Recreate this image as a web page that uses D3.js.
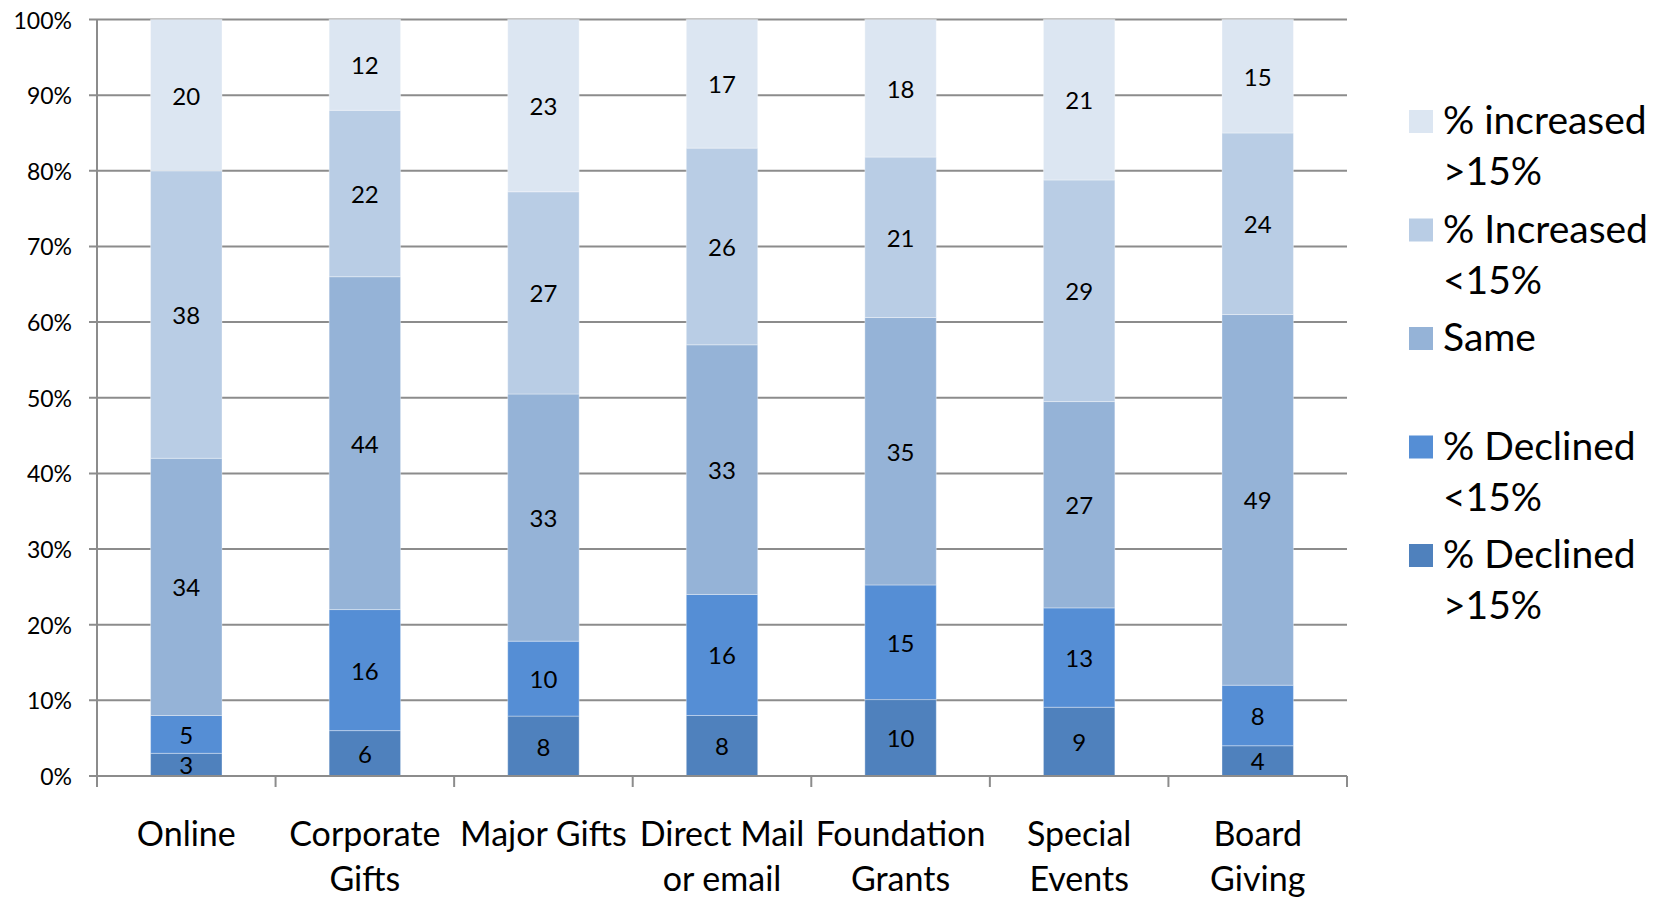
<!DOCTYPE html>
<html>
<head>
<meta charset="utf-8">
<script src="https://cdn.jsdelivr.net/npm/d3@7/dist/d3.min.js"></script>
<style>
  html, body { margin: 0; padding: 0; background: #fff; }
  svg { display: block; font-family: Lato, "Open Sans", sans-serif; }
</style>
</head>
<body>
<svg id="chart" width="1661" height="899"></svg>
<script>
// Categories (each split into label lines)
const categories = ["Online", "Corporate Gifts", "Major Gifts", "Direct Mail or email",
                    "Foundation Grants", "Special Events", "Board Giving"];
const categoryLines = [["Online"], ["Corporate", "Gifts"], ["Major Gifts"], ["Direct Mail", "or email"],
                       ["Foundation", "Grants"], ["Special", "Events"], ["Board", "Giving"]];

// Series, stacked from the bottom up
const seriesNames = ["% Declined >15%", "% Declined <15%", "Same", "% Increased <15%", "% increased >15%"];
const declinedOver15  = [3, 6, 8, 8, 10, 9, 4];
const declinedUnder15 = [5, 16, 10, 16, 15, 13, 8];
const same            = [34, 44, 33, 33, 35, 27, 49];
const increasedUnder15 = [38, 22, 27, 26, 21, 29, 24];
const increasedOver15  = [20, 12, 23, 17, 18, 21, 15];
const seriesValues = [declinedOver15, declinedUnder15, same, increasedUnder15, increasedOver15];
const seriesColors = ["#4f81bd", "#558ed5", "#95b3d7", "#b9cde5", "#dce6f2"];

// Legend order (top to bottom), with line breaks
const legendItems = [
  { series: 4, lines: ["% increased", ">15%"] },
  { series: 3, lines: ["% Increased", "<15%"] },
  { series: 2, lines: ["Same"] },
  { series: 1, lines: ["% Declined", "<15%"] },
  { series: 0, lines: ["% Declined", ">15%"] }
];

const yTicks = d3.range(0, 1.0001, 0.1);

const svg = d3.select("#chart");
const margin = { left: 97, right: 314, top: 19.5, bottom: 123 };
const W = 1661, H = 899;
const x0 = margin.left, x1 = W - margin.right;
const y0 = H - margin.bottom, y1 = margin.top;

const x = d3.scaleBand().domain(categories).range([x0, x1]).paddingInner(0.6).paddingOuter(0.3);
const xEdge = d3.scaleLinear().domain([0, categories.length]).range([x0, x1]);
const y = d3.scaleLinear().domain([0, 1]).range([y0, y1]);

const gridColor = "#8c8c8c";

// Horizontal gridlines with left tick marks
const grid = svg.append("g");
grid.selectAll("line").data(yTicks).join("line")
  .attr("x1", x0 - 8).attr("x2", x1)
  .attr("y1", d => y(d)).attr("y2", d => y(d))
  .attr("stroke", gridColor).attr("stroke-width", 2);

// Y tick labels
svg.append("g").selectAll("text").data(yTicks).join("text")
  .attr("x", 72).attr("y", d => y(d))
  .attr("text-anchor", "end").attr("dominant-baseline", "central")
  .attr("font-size", 23).attr("fill", "#000")
  .text(d => d3.format(".0%")(d));

// Build normalized stacks (percent stacked)
const table = categories.map((c, i) => {
  const row = { category: c };
  const total = d3.sum(seriesValues, s => s[i]);
  seriesNames.forEach((n, k) => { row[n] = seriesValues[k][i] / total; row["raw" + k] = seriesValues[k][i]; });
  return row;
});
const stacked = d3.stack().keys(seriesNames)(table);

const bars = svg.append("g");
stacked.forEach((layer, k) => {
  const g = bars.append("g");
  g.selectAll("rect").data(layer).join("rect")
    .attr("x", d => x(d.data.category))
    .attr("width", x.bandwidth())
    .attr("y", d => y(d[1]))
    .attr("height", d => y(d[0]) - y(d[1]))
    .attr("fill", seriesColors[k])
    .attr("stroke", "rgba(255,255,255,0.35)").attr("stroke-width", 1);
});

// Value labels centred in each segment
stacked.forEach((layer, k) => {
  bars.append("g").selectAll("text").data(layer).join("text")
    .attr("x", d => x(d.data.category) + x.bandwidth() / 2)
    .attr("y", d => (y(d[0]) + y(d[1])) / 2)
    .attr("text-anchor", "middle").attr("dominant-baseline", "central")
    .attr("font-size", 24).attr("fill", "#000")
    .text(d => d.data["raw" + k]);
});

// Axes lines
svg.append("line").attr("x1", x0).attr("x2", x0).attr("y1", y1).attr("y2", y0 + 11)
  .attr("stroke", gridColor).attr("stroke-width", 2);
svg.append("line").attr("x1", x0 - 8).attr("x2", x1).attr("y1", y0).attr("y2", y0)
  .attr("stroke", gridColor).attr("stroke-width", 2);
svg.append("g").selectAll("line").data(d3.range(1, categories.length + 1)).join("line")
  .attr("x1", d => xEdge(d)).attr("x2", d => xEdge(d))
  .attr("y1", y0).attr("y2", y0 + 11)
  .attr("stroke", gridColor).attr("stroke-width", 2);

// Category labels
const cat = svg.append("g").selectAll("text").data(categories).join("text")
  .attr("text-anchor", "middle").attr("font-size", 34).attr("fill", "#000");
cat.each(function(c, i) {
  const t = d3.select(this);
  categoryLines[i].forEach((line, j) => {
    t.append("tspan").attr("x", x(c) + x.bandwidth() / 2).attr("y", 846 + j * 45).text(line);
  });
});

// Legend
const legend = svg.append("g");
legendItems.forEach((item, i) => {
  const top = 110 + i * 108.5;
  legend.append("rect").attr("x", 1409).attr("y", top).attr("width", 24).attr("height", 23)
    .attr("fill", seriesColors[item.series]);
  const t = legend.append("text").attr("font-size", 39).attr("fill", "#000");
  item.lines.forEach((line, j) => {
    t.append("tspan").attr("x", 1443).attr("y", top + 24 + j * 51).text(line);
  });
});
</script>
</body>
</html>
